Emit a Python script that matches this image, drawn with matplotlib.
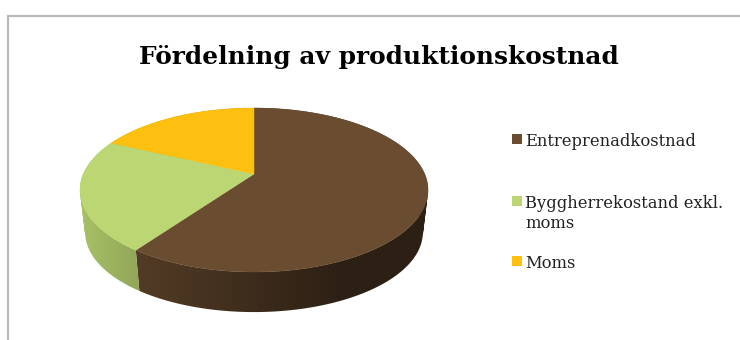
import numpy as np
import matplotlib
matplotlib.use("Agg")
import matplotlib.pyplot as plt
from matplotlib.patches import Polygon, Rectangle, PathPatch
from matplotlib.path import Path

# Andelar av produktionskostnaden (%)
kategorier = ["Entreprenadkostnad", "Byggherrekostand exkl.\nmoms", "Moms"]
andelar = [59.9, 22.1, 18.0]
farger = ["#6a4c30", "#bbd672", "#fdc010"]
titel = "Fördelning av produktionskostnad"

# Pajens geometri i pixlar
CX = 254
CY_TOPP = 174
CY_BOTTEN = 217
A_TOPP, B_TOPP = 170.7, 78.9
SKALA_BOTTEN = 0.97
K = 0.195  # perspektiv


def projicera(theta, cy, skala=1.0):
    # theta medurs från klockan 12
    s = np.cos(theta)
    c = np.sin(theta)
    w = 1 + K * s
    return CX + skala * A_TOPP * c / w, cy - skala * B_TOPP * s / w


def sidoform(t):
    # Unionen av små fyrhörningar mellan övre och nedre kanten
    xt, yt = projicera(t, CY_TOPP)
    xb, yb = projicera(t, CY_BOTTEN, SKALA_BOTTEN)
    delar = []
    for j in range(len(t) - 1):
        q = np.array([(xt[j], yt[j]), (xt[j + 1], yt[j + 1]), (xb[j + 1], yb[j + 1]), (xb[j], yb[j])])
        area = np.sum(q[:, 0] * np.roll(q[:, 1], -1) - np.roll(q[:, 0], -1) * q[:, 1])
        if area < 0:
            q = q[::-1]
        delar.append(Path(np.vstack([q, q[0]]), closed=True))
    return Path.make_compound_path(*delar)


fig = plt.figure(figsize=(7.4, 3.4), dpi=100)
ax = fig.add_axes([0, 0, 1, 1])

# Ramen runt diagrammet
ax.plot([7.5, 7.5, 740], [340, 15.5, 15.5], color="#b9b9b9", lw=1.6, solid_joinstyle="miter")

ax.text(379, 57, titel, family="DejaVu Serif", weight="bold", fontsize=17.9,
        ha="center", va="center", color="black")

grader = np.cumsum([0] + andelar) / 100 * 2 * np.pi

# Sidorna först, med mörkare ton åt höger
xrad = np.arange(0, 740)
ton = np.interp(xrad, [80, 137, 340, 428], [0.9, 0.78, 0.42, 0.42])
for i, farg in enumerate(farger):
    t = np.linspace(grader[i], grader[i + 1], 150)
    bas = np.array(matplotlib.colors.to_rgb(farg))
    bild = (ton[:, None] * bas)[None, :, :]
    im = ax.imshow(bild, extent=[0, 740, 340, 0], aspect="auto", interpolation="bilinear", zorder=1)
    klipp = PathPatch(sidoform(t), facecolor="none", edgecolor="none", transform=ax.transData)
    ax.add_patch(klipp)
    im.set_clip_path(klipp)

ax.set_xlim(0, 740)
ax.set_ylim(340, 0)
ax.axis("off")

# Ovansidan
for i, farg in enumerate(farger):
    t = np.linspace(grader[i], grader[i + 1], 200)
    xt, yt = projicera(t, CY_TOPP)
    punkter = np.column_stack([np.r_[CX, xt], np.r_[CY_TOPP, yt]])
    ax.add_patch(Polygon(punkter, closed=True, facecolor=farg, edgecolor=farg, lw=0.3, zorder=2))

# Förklaring
ruta_y = [139, 200.5, 261]
text_y = [142, 213.5, 264]
for farg, namn, ry, ty in zip(farger, kategorier, ruta_y, text_y):
    ax.add_patch(Rectangle((512, ry - 5), 10, 10, facecolor=farg, edgecolor="none"))
    ax.text(525, ty, namn, family="DejaVu Serif", fontsize=11.8, color="#222222",
            ha="left", va="center", linespacing=1.2)

fig.savefig("out.png", dpi=100)
